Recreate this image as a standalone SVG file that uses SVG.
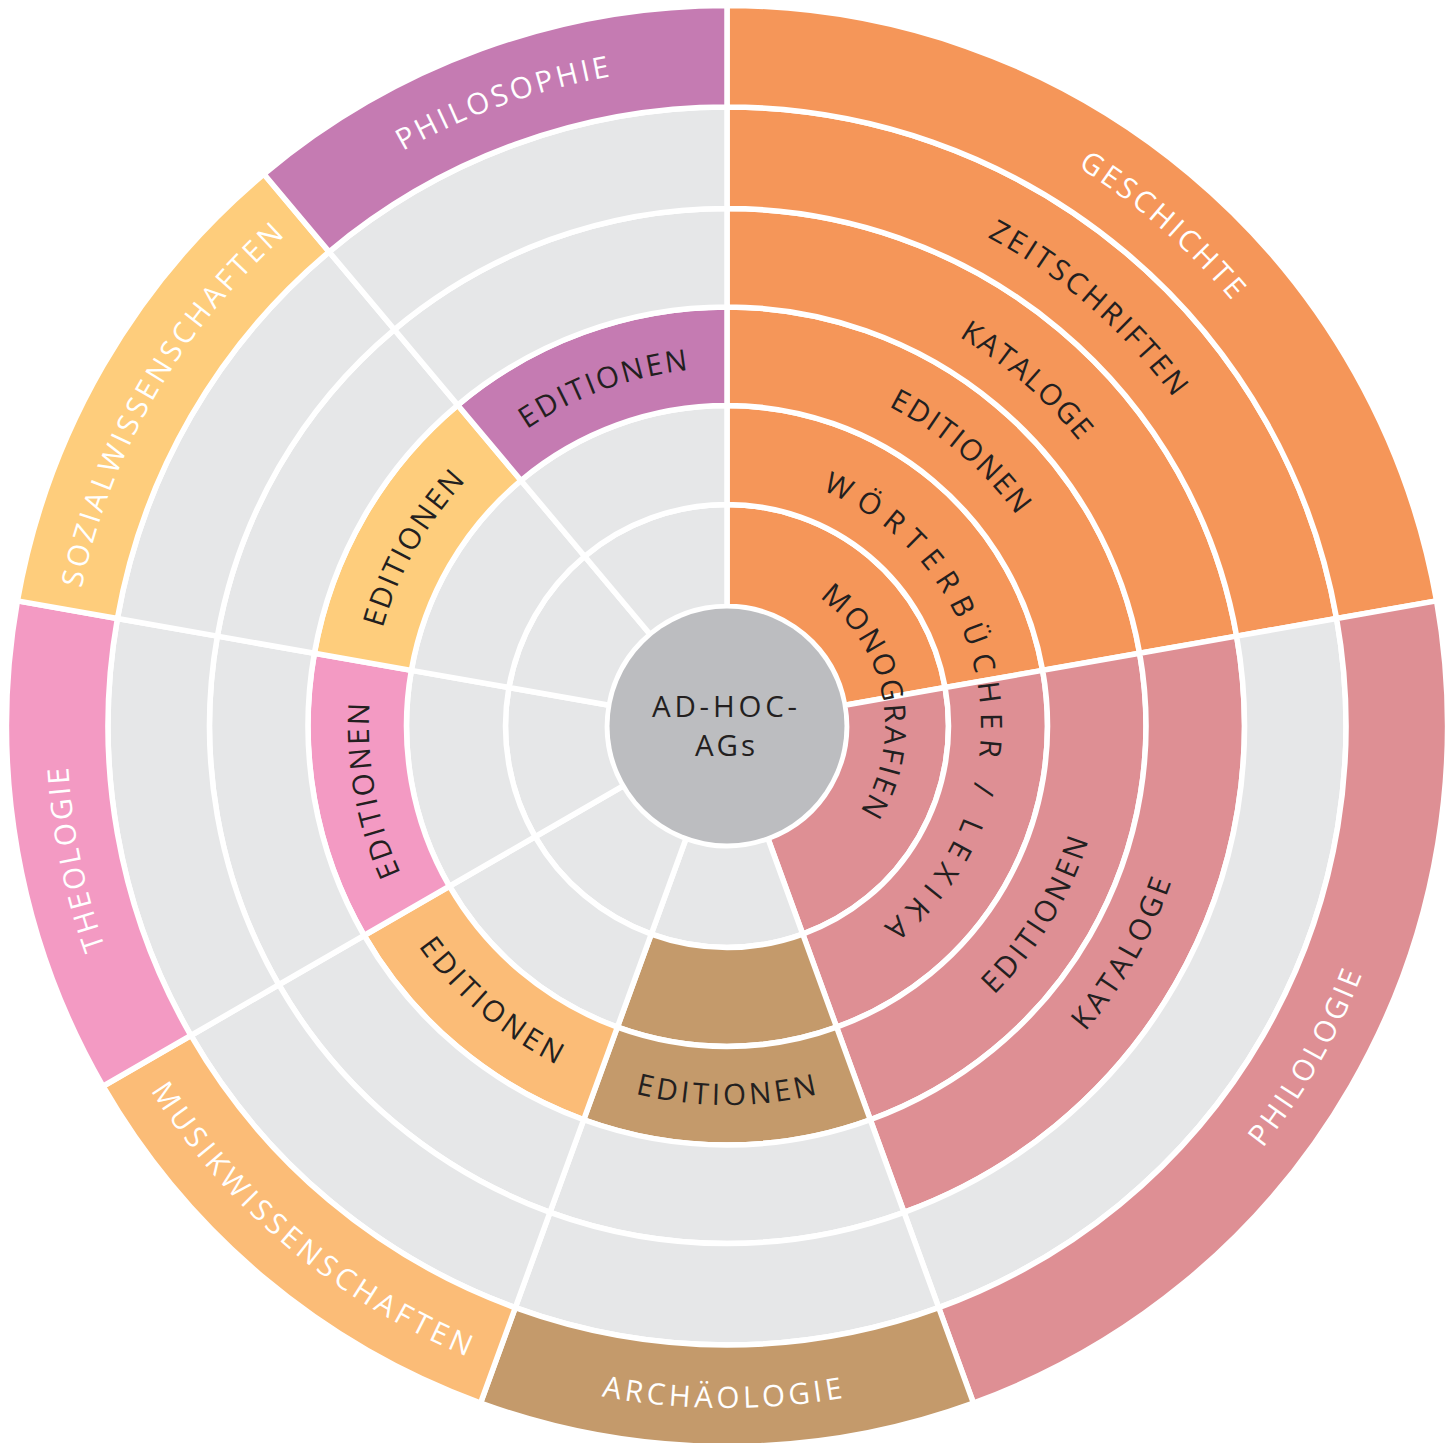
<svg xmlns="http://www.w3.org/2000/svg" xmlns:xlink="http://www.w3.org/1999/xlink" width="1445" height="1443" viewBox="0 0 1445 1443">
<style>
  .cell { stroke:#FFFFFF; stroke-width:5.5; stroke-linejoin:miter; }
  .c-ges { fill:#F59659; }
  .c-phl { fill:#DE8F94; }
  .c-arc { fill:#C49A6B; }
  .c-mus { fill:#FBBC77; }
  .c-the { fill:#F39AC3; }
  .c-soz { fill:#FECD7C; }
  .c-phi { fill:#C57BB2; }
  .c-gry { fill:#E6E7E8; }
  .lbl { font-family:"Open Sans","Noto Sans","Liberation Sans",sans-serif; font-size:29.5px; font-weight:500; text-anchor:middle; }
  .dark { fill:#231F20; }
  .light { fill:#FFFFFF; font-weight:400; }
</style>
<defs>
  <path id="w40r1" d="M727,504.5 A221.5,221.5 0 0 1 869.377,556.321 L803.813,634.458 A119.5,119.5 0 0 0 727,606.5 Z"/>
  <path id="w40r2" d="M727,405.5 A320.5,320.5 0 0 1 933.014,480.483 L869.377,556.321 A221.5,221.5 0 0 0 727,504.5 Z"/>
  <path id="w40r3" d="M727,307 A419,419 0 0 1 996.328,405.028 L933.014,480.483 A320.5,320.5 0 0 0 727,405.5 Z"/>
  <path id="w40r4" d="M727,208.5 A517.5,517.5 0 0 1 1059.643,329.572 L996.328,405.028 A419,419 0 0 0 727,307 Z"/>
  <path id="w40r5" d="M727,107 A619,619 0 0 1 1124.886,251.819 L1059.643,329.572 A517.5,517.5 0 0 0 727,208.5 Z"/>
  <path id="w40r6" d="M727,5.5 A720.5,720.5 0 0 1 1190.129,174.065 L1124.886,251.819 A619,619 0 0 0 727,107 Z"/>
  <path id="w80r1" d="M727,504.5 A221.5,221.5 0 0 1 945.135,687.537 L844.685,705.249 A119.5,119.5 0 0 0 727,606.5 Z"/>
  <path id="w80r2" d="M727,405.5 A320.5,320.5 0 0 1 1042.631,670.346 L945.135,687.537 A221.5,221.5 0 0 0 727,504.5 Z"/>
  <path id="w80r3" d="M727,307 A419,419 0 0 1 1139.635,653.241 L1042.631,670.346 A320.5,320.5 0 0 0 727,405.5 Z"/>
  <path id="w80r4" d="M727,208.5 A517.5,517.5 0 0 1 1236.638,636.137 L1139.635,653.241 A419,419 0 0 0 727,307 Z"/>
  <path id="w80r5" d="M727,107 A619,619 0 0 1 1336.596,618.512 L1236.638,636.137 A517.5,517.5 0 0 0 727,208.5 Z"/>
  <path id="w80r6" d="M727,5.5 A720.5,720.5 0 0 1 1436.554,600.887 L1336.596,618.512 A619,619 0 0 0 727,107 Z"/>
  <!-- clockwise text arcs centred at top -->
  <path id="cw660" d="M69.51,668.48 A660,660 0 0 1 1384.49,668.48"/>
  <path id="cw554" d="M175.11,677.71 A554,554 0 0 1 1278.89,677.71"/>
  <path id="cw453" d="M275.73,686.52 A453,453 0 0 1 1178.27,686.52"/>
  <path id="cw358" d="M370.36,694.80 A358,358 0 0 1 1083.64,694.80"/>
  <path id="cw254" d="M473.97,703.86 A254,254 0 0 1 980.03,703.86"/>
  <path id="cw158" d="M569.60,712.23 A158,158 0 0 1 884.40,712.23"/>
  <!-- counter-clockwise text arcs centred at bottom -->
  <path id="ccw682" d="M47.60,785.44 A682,682 0 0 0 1406.40,785.44"/>
  <path id="ccw471" d="M257.79,767.05 A471,471 0 0 0 1196.21,767.05"/>
  <path id="ccw379" d="M349.44,759.03 A379,379 0 0 0 1104.56,759.03"/>
</defs>
<rect x="0" y="0" width="1445" height="1443" fill="#FFFFFF"/>

<g id="sector-geschichte">
  <use href="#w80r1" class="cell c-ges"/>
  <use href="#w80r2" class="cell c-ges"/>
  <use href="#w80r3" class="cell c-ges"/>
  <use href="#w80r4" class="cell c-ges"/>
  <use href="#w80r5" class="cell c-ges"/>
  <use href="#w80r6" class="cell c-ges"/>
</g>
<g id="sector-philologie" transform="rotate(80 727 726)">
  <use href="#w80r1" class="cell c-phl"/>
  <use href="#w80r2" class="cell c-phl"/>
  <use href="#w80r3" class="cell c-phl"/>
  <use href="#w80r4" class="cell c-phl"/>
  <use href="#w80r5" class="cell c-gry"/>
  <use href="#w80r6" class="cell c-phl"/>
</g>
<g id="sector-archaeologie" transform="rotate(160 727 726)">
  <use href="#w40r1" class="cell c-gry"/>
  <use href="#w40r2" class="cell c-arc"/>
  <use href="#w40r3" class="cell c-arc"/>
  <use href="#w40r4" class="cell c-gry"/>
  <use href="#w40r5" class="cell c-gry"/>
  <use href="#w40r6" class="cell c-arc"/>
</g>
<g id="sector-musikwissenschaften" transform="rotate(200 727 726)">
  <use href="#w40r1" class="cell c-gry"/>
  <use href="#w40r2" class="cell c-gry"/>
  <use href="#w40r3" class="cell c-mus"/>
  <use href="#w40r4" class="cell c-gry"/>
  <use href="#w40r5" class="cell c-gry"/>
  <use href="#w40r6" class="cell c-mus"/>
</g>
<g id="sector-theologie" transform="rotate(240 727 726)">
  <use href="#w40r1" class="cell c-gry"/>
  <use href="#w40r2" class="cell c-gry"/>
  <use href="#w40r3" class="cell c-the"/>
  <use href="#w40r4" class="cell c-gry"/>
  <use href="#w40r5" class="cell c-gry"/>
  <use href="#w40r6" class="cell c-the"/>
</g>
<g id="sector-sozialwissenschaften" transform="rotate(280 727 726)">
  <use href="#w40r1" class="cell c-gry"/>
  <use href="#w40r2" class="cell c-gry"/>
  <use href="#w40r3" class="cell c-soz"/>
  <use href="#w40r4" class="cell c-gry"/>
  <use href="#w40r5" class="cell c-gry"/>
  <use href="#w40r6" class="cell c-soz"/>
</g>
<g id="sector-philosophie" transform="rotate(320 727 726)">
  <use href="#w40r1" class="cell c-gry"/>
  <use href="#w40r2" class="cell c-gry"/>
  <use href="#w40r3" class="cell c-phi"/>
  <use href="#w40r4" class="cell c-gry"/>
  <use href="#w40r5" class="cell c-gry"/>
  <use href="#w40r6" class="cell c-phi"/>
</g>

<g id="center">
  <circle cx="727" cy="726" r="117.5" fill="#BCBDC0"/>
  <text class="lbl dark" x="724.5" y="717" font-size="28" textLength="145" lengthAdjust="spacing">AD-HOC-</text>
  <text class="lbl dark" x="725" y="755.5" font-size="28" textLength="60" lengthAdjust="spacing">AGs</text>
</g>

<g id="labels">
  <text class="lbl light" transform="rotate(41 727 726)"><textPath href="#cw660" startOffset="50%" textLength="205" lengthAdjust="spacing">GESCHICHTE</textPath></text>
  <text class="lbl dark" transform="rotate(40.85 727 726)"><textPath href="#cw554" startOffset="50%" textLength="248" lengthAdjust="spacing">ZEITSCHRIFTEN</textPath></text>
  <text class="lbl dark" transform="rotate(40.9 727 726)"><textPath href="#cw453" startOffset="50%" textLength="160" lengthAdjust="spacing">KATALOGE</textPath></text>
  <text class="lbl dark" transform="rotate(40.4 727 726)"><textPath href="#cw358" startOffset="50%" textLength="170" lengthAdjust="spacing">EDITIONEN</textPath></text>
  <text class="lbl dark" transform="rotate(82 727 726)"><textPath href="#cw254" startOffset="50%" textLength="532" lengthAdjust="spacing">WÖRTERBÜCHER / LEXIKA</textPath></text>
  <text class="lbl dark" transform="rotate(79.2 727 726)"><textPath href="#cw158" startOffset="50%" textLength="240" lengthAdjust="spacing">MONOGRAFIEN</textPath></text>

  <text class="lbl dark" transform="rotate(-58.6 727 726)"><textPath href="#ccw379" startOffset="50%" textLength="183" lengthAdjust="spacing">EDITIONEN</textPath></text>
  <text class="lbl dark" transform="rotate(-60.1 727 726)"><textPath href="#ccw471" startOffset="50%" textLength="174" lengthAdjust="spacing">KATALOGE</textPath></text>
  <text class="lbl light" transform="rotate(-60.2 727 726)"><textPath href="#ccw682" startOffset="50%" textLength="201" lengthAdjust="spacing">PHILOLOGIE</textPath></text>

  <text class="lbl light" transform="rotate(0.4 727 726)"><textPath href="#ccw682" startOffset="50%" textLength="243" lengthAdjust="spacing">ARCHÄOLOGIE</textPath></text>
  <text class="lbl dark" transform="rotate(0.1 727 726)"><textPath href="#ccw379" startOffset="50%" textLength="184" lengthAdjust="spacing">EDITIONEN</textPath></text>

  <text class="lbl dark" transform="rotate(40.6 727 726)"><textPath href="#ccw379" startOffset="50%" textLength="184" lengthAdjust="spacing">EDITIONEN</textPath></text>
  <text class="lbl light" transform="rotate(40.05 727 726)"><textPath href="#ccw682" startOffset="50%" textLength="420" lengthAdjust="spacing">MUSIKWISSENSCHAFTEN</textPath></text>

  <text class="lbl dark" transform="rotate(259.65 727 726)"><textPath href="#cw358" startOffset="50%" textLength="175" lengthAdjust="spacing">EDITIONEN</textPath></text>
  <text class="lbl light" transform="rotate(258.4 727 726)"><textPath href="#cw660" startOffset="50%" textLength="185" lengthAdjust="spacing">THEOLOGIE</textPath></text>

  <text class="lbl dark" transform="rotate(299.5 727 726)"><textPath href="#cw358" startOffset="50%" textLength="171" lengthAdjust="spacing">EDITIONEN</textPath></text>
  <text class="lbl light" transform="rotate(300 727 726)"><textPath href="#cw660" startOffset="50%" textLength="414" lengthAdjust="spacing">SOZIALWISSENSCHAFTEN</textPath></text>

  <text class="lbl dark" transform="rotate(339.9 727 726)"><textPath href="#cw358" startOffset="50%" textLength="174" lengthAdjust="spacing">EDITIONEN</textPath></text>
  <text class="lbl light" transform="rotate(340.2 727 726)"><textPath href="#cw660" startOffset="50%" textLength="222" lengthAdjust="spacing">PHILOSOPHIE</textPath></text>
</g>
</svg>
